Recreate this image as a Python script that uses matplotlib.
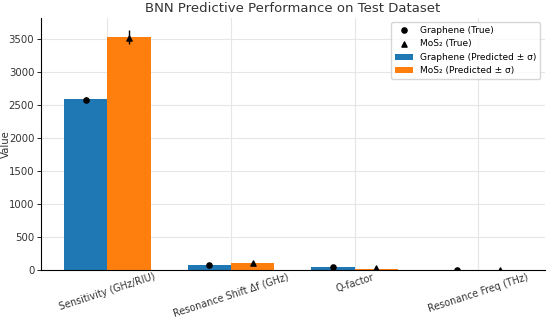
import numpy as np
import matplotlib
matplotlib.use("Agg")
import matplotlib.pyplot as plt

metrics = ["Sensitivity (GHz/RIU)", "Resonance Shift Δf (GHz)", "Q-factor", "Resonance Freq (THz)"]
graphene_pred = [2590, 85, 50, 1.5]
graphene_std = [35, 6, 4, 0.1]
mos2_pred = [3530, 110, 28, 1.2]
mos2_std = [110, 8, 3, 0.1]
graphene_true = [2585, 85, 60, 1.6]
mos2_true = [3520, 120, 30, 1.3]

x = np.arange(len(metrics))
width = 0.35

fig, ax = plt.subplots(figsize=(5.5, 3.22), dpi=100)
ax.bar(x - width / 2, graphene_pred, width, yerr=graphene_std, color='#1f77b4',
       label='Graphene (Predicted ± σ)', error_kw=dict(ecolor='black', lw=1))
ax.bar(x + width / 2, mos2_pred, width, yerr=mos2_std, color='#ff7f0e',
       label='MoS₂ (Predicted ± σ)', error_kw=dict(ecolor='black', lw=1))
ax.scatter(x - width / 2, graphene_true, color='black', marker='o', s=14, zorder=3,
           label='Graphene (True)')
ax.scatter(x + width / 2, mos2_true, color='black', marker='^', s=14, zorder=3,
           label='MoS₂ (True)')

ax.set_xticks(x)
ax.set_xticklabels(metrics, rotation=18, fontsize=6.9, color='#333333')
ax.tick_params(axis='x', length=0, pad=1)
ax.tick_params(axis='y', labelsize=7.3, labelcolor='#333333', length=3, width=0.6, pad=2)
ax.set_ylabel("Value", fontsize=7.3, color='#333333')
ax.yaxis.set_label_coords(-0.061, 0.5)
ax.set_title("BNN Predictive Performance on Test Dataset", fontsize=9.5, color='#333333', pad=4)
ax.grid(True, color='#e6e6e6', linewidth=0.8)
ax.set_axisbelow(True)
for s in ['top', 'right']:
    ax.spines[s].set_visible(False)

ax.legend(loc='upper right', fontsize=6.5)

plt.subplots_adjust(left=0.075, right=0.99, top=0.945, bottom=0.16)
plt.savefig("out.png")
